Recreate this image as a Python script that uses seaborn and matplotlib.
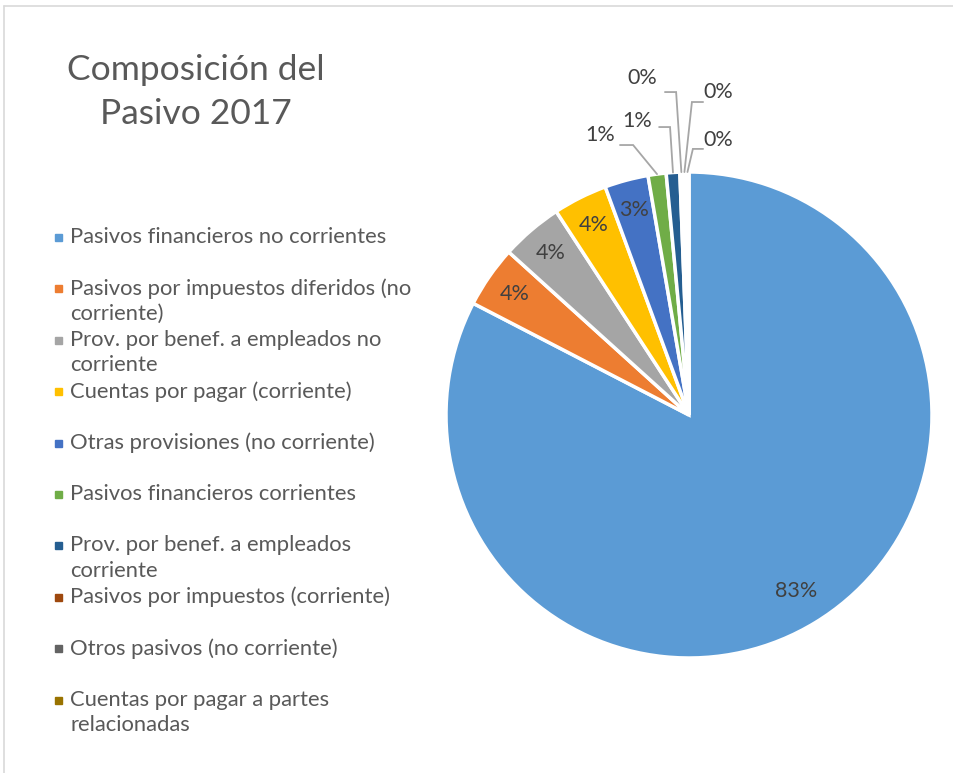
import textwrap
import numpy as np
import matplotlib
matplotlib.use("Agg")
import matplotlib.pyplot as plt
from matplotlib.lines import Line2D
import seaborn as sns

# ---------------- data ----------------
categories = [
    "Pasivos financieros no corrientes",
    "Pasivos por impuestos diferidos (no corriente)",
    "Prov. por benef. a empleados no corriente",
    "Cuentas por pagar (corriente)",
    "Otras provisiones (no corriente)",
    "Pasivos financieros corrientes",
    "Prov. por benef. a empleados corriente",
    "Pasivos por impuestos (corriente)",
    "Otros pasivos (no corriente)",
    "Cuentas por pagar a partes relacionadas",
]
values = [82.6, 4.1, 4.1, 3.6, 2.9, 1.2, 0.9, 0.2, 0.2, 0.2]
pct_labels = ["83%", "4%", "4%", "4%", "3%", "1%", "1%", "0%", "0%", "0%"]
colors = ["#5B9BD5", "#ED7D31", "#A5A5A5", "#FFC000", "#4472C4",
          "#70AD47", "#255E91", "#9E480E", "#636363", "#997300"]
title = "Composición del\nPasivo 2017"

sns.set_theme(style="white")
plt.rcParams["font.family"] = ["Lato", "DejaVu Sans"]

W, H = 954, 773
fig = plt.figure(figsize=(W / 100, H / 100), dpi=100)
fig.patch.set_facecolor("white")

# chart border (light gray, left and top visible)
fig.add_artist(Line2D([4.5 / W, 4.5 / W], [0, 1 - 5.5 / H], color="#D9D9D9", lw=1.2))
fig.add_artist(Line2D([4.5 / W, 1], [1 - 5.5 / H, 1 - 5.5 / H], color="#D9D9D9", lw=1.2))

# pie axes: center (689,415) px, radius 243 px
cx, cy, R = 689, 415, 243
ax = fig.add_axes([(cx - R) / W, (H - cy - R) / H, 2 * R / W, 2 * R / H])

wedges, _ = ax.pie(values, colors=colors, startangle=90, counterclock=False,
                   radius=1.0, wedgeprops=dict(edgecolor="white", linewidth=2.5))
ax.set_xlim(-1, 1)
ax.set_ylim(-1, 1)
ax.axis("off")

txt_color = "#404040"
line_color = "#A6A6A6"

# outside label layout (data units) for small slices: text pos, anchor, elbow
outside = {
    5: ((-0.366, 1.152), (-0.284, 1.111), (-0.230, 1.111)),
    6: ((-0.214, 1.210), (-0.123, 1.185), (-0.078, 1.185)),
    7: ((-0.193, 1.387), (-0.099, 1.329), (-0.053, 1.329)),
    8: ((0.119, 1.329), (0.058, 1.288), (0.012, 1.288)),
    9: ((0.119, 1.132), (0.058, 1.095), (0.016, 1.095)),
}

for i, w in enumerate(wedges):
    mid = np.deg2rad((w.theta1 + w.theta2) / 2)
    if i in outside:
        tpos, anc, elb = outside[i]
        ex, ey = np.cos(mid) * 1.0, np.sin(mid) * 1.0
        ax.plot([anc[0], elb[0], ex], [anc[1], elb[1], ey], color=line_color,
                lw=1.3, clip_on=False, solid_joinstyle="miter")
        ax.text(tpos[0], tpos[1], pct_labels[i], ha="center", va="center",
                fontsize=15.5, color=txt_color)
    else:
        r = 0.85 if i == 0 else 0.875
        ax.text(np.cos(mid) * r, np.sin(mid) * r, pct_labels[i], ha="center",
                va="center", fontsize=15.5, color=txt_color)

# title
fig.text(196 / W, 1 - 92 / H, title, ha="center", va="center", fontsize=25.5,
         color="#595959", linespacing=1.45)

# legend (evenly spaced entries, like the original)
y0, step = 237, 51.4
for i, (cat, col) in enumerate(zip(categories, colors)):
    y = y0 + i * step
    lab = "\n".join(textwrap.wrap(cat, 35))
    fig.patches.append(plt.Rectangle((55 / W, 1 - (y + 4) / H), 7 / W, 7 / H,
                                     transform=fig.transFigure, color=col))
    fig.text(70 / W, 1 - (y - 10) / H, lab, ha="left", va="top", fontsize=15.8,
             color="#595959", linespacing=1.32)

fig.savefig("out.png", dpi=100, facecolor="white")
